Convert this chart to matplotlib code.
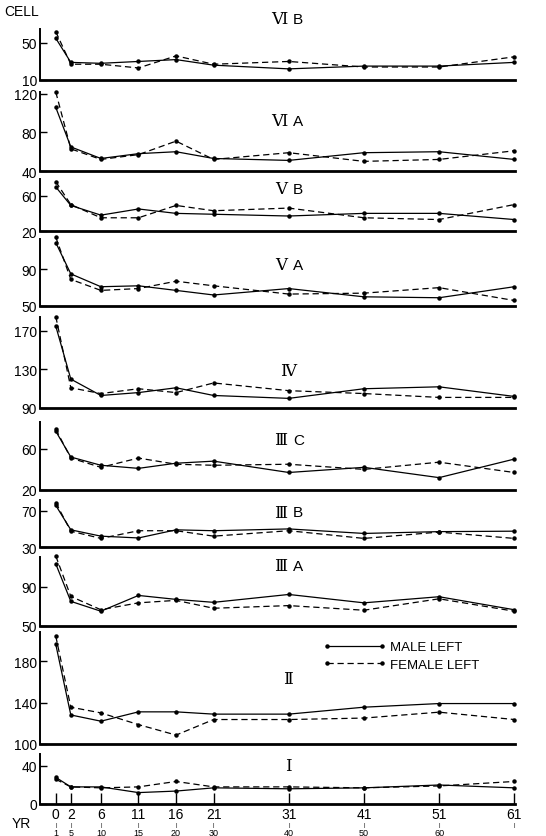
import numpy as np
import matplotlib
matplotlib.use('Agg')
from matplotlib import pyplot as plt
from matplotlib.lines import Line2D

plt.rcParams['font.family'] = ['Liberation Sans', 'DejaVu Sans']

# age groups (start of range on the first row, end of range on the second)
age_from = [0, 2, 6, 11, 16, 21, 31, 41, 51, 61]
age_to = ['1', '5', '10', '15', '20', '30', '40', '50', '60', '']

# cell counts per layer, male left / female left
male_6b = [55, 29, 28, 30, 32, 26, 22, 25, 25, 29]
female_6b = [62, 27, 27, 23, 36, 27, 30, 24, 24, 35]
male_6a = [106, 65, 53, 58, 60, 53, 51, 59, 60, 52]
female_6a = [122, 63, 52, 57, 71, 52, 59, 50, 52, 61]
male_5b = [70, 49, 38, 45, 40, 39, 37, 40, 40, 33]
female_5b = [76, 50, 35, 35, 49, 43, 46, 35, 33, 50]
male_5a = [119, 85, 71, 72, 67, 62, 69, 60, 59, 71]
female_5a = [125, 79, 67, 69, 77, 72, 63, 64, 70, 56]
male_4 = [175, 120, 103, 106, 111, 103, 100, 110, 112, 102]
female_4 = [185, 111, 105, 110, 106, 116, 108, 105, 101, 101]
male_3c = [77, 52, 44, 41, 46, 48, 37, 42, 32, 50]
female_3c = [79, 51, 42, 51, 45, 44, 45, 40, 47, 37]
male_3b = [76, 49, 42, 40, 49, 48, 50, 45, 47, 47.5]
female_3b = [79, 47.5, 39.5, 48, 48, 42, 48, 39.5, 46.5, 39.5]
male_3a = [113, 75, 65, 81, 77, 74, 82, 73.5, 79.7, 66.5]
female_3a = [121, 80, 66.5, 73.5, 76, 68, 70.7, 66, 77.6, 65]
male_2 = [196, 128, 122, 131, 131, 128.8, 128.8, 135.5, 139, 139]
female_2 = [204, 135.5, 130, 118.7, 108.6, 123.6, 123.6, 125, 130.7, 123.6]
male_1 = [28, 18, 18, 12, 13.6, 17, 16, 17, 20, 17]
female_1 = [26, 18, 17, 18, 23.7, 18, 18, 17, 19, 23.7]

numerals = ['\u2165', '\u2165', '\u2164', '\u2164', '\u2163', '\u2162', '\u2162', '\u2162', '\u2161', '\u2160']
letters = ['B', 'A', 'B', 'A', '', 'C', 'B', 'A', '', '']
males = [male_6b, male_6a, male_5b, male_5a, male_4, male_3c, male_3b, male_3a, male_2, male_1]
females = [female_6b, female_6a, female_5b, female_5a, female_4, female_3c, female_3b, female_3a, female_2, female_1]
ylims = [(10, 65), (40, 122), (20, 79), (50, 123), (90, 184.5), (20, 86), (30, 82), (50, 120), (100, 208), (0, 52.6)]
yticks = [[10, 50], [40, 80, 120], [20, 60], [50, 90], [90, 130, 170], [20, 60], [30, 70], [50, 90], [100, 140, 180], [0, 40]]

# layout in pixels
W, H = 546, 837
X0, X1 = 40, 515
tops = [30, 93, 180, 240, 318, 423, 501, 558, 633, 755]
bottoms = [81, 172, 232, 307, 409, 491, 548, 627, 745, 805]
title_y = [20, 122, 190, 266, 372, 441, 513, 567, 680, 767]

fig = plt.figure(figsize=(W / 100, H / 100), dpi=100)

for i in range(len(males)):
  t, b = tops[i], bottoms[i]
  ax = fig.add_axes([X0 / W, 1 - b / H, (X1 - X0) / W, (b - t) / H])
  ax.plot(age_from, males[i], color='black', linewidth=0.9, linestyle='-',
          marker='o', markersize=2.2, clip_on=False)
  ax.plot(age_from, females[i], color='black', linewidth=0.9, linestyle=(0, (5, 3)),
          marker='o', markersize=2.2, clip_on=False)
  ax.set_xlim(-2.1, 61.1)
  ax.set_ylim(*ylims[i])
  ax.set_yticks(yticks[i])
  ax.tick_params(axis='y', direction='in', length=5, width=1, labelsize=10, pad=2)
  for s in ['top', 'right']:
    ax.spines[s].set_visible(False)
  ax.spines['left'].set_linewidth(1.4)
  ax.spines['bottom'].set_linewidth(2)
  ax.patch.set_alpha(0)
  if i == len(males) - 1:
    ax.set_xticks(age_from)
    ax.set_xticklabels([str(a) for a in age_from])
    ax.tick_params(axis='x', direction='in', length=8, width=1, labelsize=10, pad=2)
    for a, lab in zip(age_from, age_to):
      ax.annotate('|', xy=(a, 0), xycoords=('data', 'axes fraction'),
                  xytext=(0, -21), textcoords='offset pixels',
                  ha='center', va='center', fontsize=4)
      ax.annotate(lab, xy=(a, 0), xycoords=('data', 'axes fraction'),
                  xytext=(0, -24), textcoords='offset pixels',
                  ha='center', va='top', fontsize=6.5)
  else:
    ax.set_xticks([])
  if i == 8:
    handles = [Line2D([], [], color='black', linewidth=0.9, marker='o', markersize=2.2),
               Line2D([], [], color='black', linewidth=0.9, linestyle=(0, (5, 3)),
                      marker='o', markersize=2.2)]
    ax.legend(handles, ['MALE LEFT', 'FEMALE LEFT'], numpoints=2, frameon=False,
              loc='upper left', bbox_to_anchor=(323 / W, 1 - 642 / H),
              bbox_transform=fig.transFigure, handlelength=4.8, handletextpad=0.3,
              labelspacing=0.4, fontsize=9.5, borderaxespad=0, borderpad=0)

  # panel titles
  if letters[i]:
    fig.text(287 / W, 1 - title_y[i] / H, numerals[i], family='DejaVu Serif',
             fontsize=12, ha='right', va='center')
    fig.text(293 / W, 1 - title_y[i] / H, letters[i], fontsize=11,
             ha='left', va='center')
  else:
    fig.text(288 / W, 1 - title_y[i] / H, numerals[i], family='DejaVu Serif',
             fontsize=12, ha='center', va='center')

fig.text(4 / W, 1 - 12 / H, 'CELL', fontsize=10, ha='left', va='center')
fig.text(12 / W, 1 - 824 / H, 'YR', fontsize=10, ha='left', va='center')

plt.savefig('out.png', dpi=100)
